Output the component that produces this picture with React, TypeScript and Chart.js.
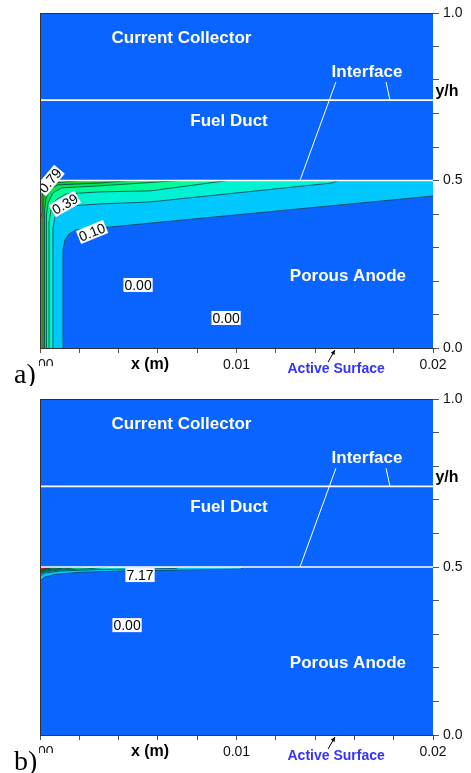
import React, { useEffect, useRef } from 'react';
import { Chart, registerables } from 'chart.js';

Chart.register(...registerables);

// ---------- axis tick labels ----------
const xTickLabels = ['0.00', '0.01', '0.02'];
const yTickLabels = ['0.0', '0.5', '1.0'];

// ---------- panel a: contour band boundaries (x in m, y as y/h) ----------
const aB1x = [0.00117, 0.00117, 0.00127, 0.00148, 0.00183, 0.00356, 0.02];
const aB1y = [0, 0.2925, 0.3224, 0.3403, 0.3522, 0.3612, 0.4537];
const aB2x = [0.00066, 0.00066, 0.00076, 0.00102, 0.00153, 0.00305, 0.0056, 0.01486, 0.01517];
const aB2y = [0, 0.358, 0.391, 0.412, 0.424, 0.43, 0.436, 0.4925, 0.5];
const aB3x = [0.00046, 0.00046, 0.00056, 0.00081, 0.00132, 0.00305, 0.0056, 0.00957];
const aB3y = [0, 0.376, 0.412, 0.442, 0.46, 0.466, 0.469, 0.5];
const aB4x = [0.00033, 0.00033, 0.00041, 0.00066, 0.00112, 0.00305, 0.00712];
const aB4y = [0, 0.397, 0.433, 0.463, 0.478, 0.484, 0.5];
const aB5x = [0.00023, 0.00023, 0.00031, 0.00051, 0.00092, 0.00305, 0.00458];
const aB5y = [0, 0.412, 0.448, 0.475, 0.487, 0.4925, 0.5];
const aB6x = [0.00015, 0.00015, 0.0002, 0.00036, 0.00066, 0.00204];
const aB6y = [0, 0.427, 0.457, 0.481, 0.4925, 0.5];
const aB7x = [0.00009, 0.00009, 0.00015, 0.00031, 0.00102];
const aB7y = [0, 0.442, 0.472, 0.49, 0.5];
const aB8x = [0, 0.00008, 0.0001, 0.00025, 0.0005];
const aB8y = [0.38, 0.4, 0.46, 0.49, 0.5];
const aB9x = [0, 0.00012, 0.0002];
const aB9y = [0.47, 0.487, 0.5];
const aBandColors = ['#00c8ff', '#00f2d2', '#00ff96', '#00e65a', '#1ec81e', '#a0dc00', '#f0e600', '#ff9600', '#e61e00'];

// contour labels, panel a
const aLabelText = ['0.79', '0.39', '0.10', '0.00', '0.00'];
const aLabelX = [0.00051, 0.00127, 0.00265, 0.00499, 0.00947];
const aLabelY = [0.5, 0.43, 0.346, 0.188, 0.0896];
const aLabelAngle = [-50, -30, -22, 0, 0];

// ---------- panel b ----------
const bB1x = [0, 0.00025, 0.00076, 0.002, 0.004, 0.007, 0.0102, 0.0104];
const bB1y = [0.458, 0.47, 0.478, 0.484, 0.488, 0.4905, 0.4935, 0.5];
const bB2x = [0, 0.00025, 0.001, 0.003, 0.0069, 0.0071];
const bB2y = [0.473, 0.482, 0.488, 0.4926, 0.4955, 0.5];
const bB3x = [0, 0.0003, 0.001, 0.0025, 0.0035];
const bB3y = [0.479, 0.486, 0.491, 0.495, 0.5];
const bB4x = [0, 0.0004, 0.0012, 0.0022];
const bB4y = [0.482, 0.489, 0.494, 0.5];
const bB5x = [0, 0.0004, 0.0012, 0.0016];
const bB5y = [0.485, 0.492, 0.497, 0.5];
const bB6x = [0, 0.0003, 0.0008];
const bB6y = [0.487, 0.494, 0.5];
const bB7x = [0, 0.00025, 0.0006];
const bB7y = [0.489, 0.495, 0.5];
const bBandColors = ['#00c8ff', '#00f2d2', '#00ff96', '#00e65a', '#1ea01e', '#a02010', '#ff1000'];

const bLabelText = ['7.17', '0.00'];
const bLabelX = [0.00509, 0.00443];
const bLabelY = [0.476, 0.327];
const bLabelAngle = [0, 0];

// ---------- annotations (shared) ----------
const regionNames = ['Current Collector', 'Fuel Duct', 'Porous Anode', 'Interface'];
const regionX = [0.0072, 0.00962, 0.01567, 0.01664];
const regionY = [0.925, 0.677, 0.213, 0.822];
const interfaceLevels = [0.74, 0.5];
const leaderX = [[0.01506, 0.01323], [0.01761, 0.01781]];
const leaderY = [[0.794, 0.5], [0.794, 0.74]];

const BLUE = '#0a64ff';
const CONTOUR_LINE = '#0a3c50';
const FONT = "'Liberation Sans', Arial, Helvetica, sans-serif";

const panels = [
  {
    bx: [aB1x, aB2x, aB3x, aB4x, aB5x, aB6x, aB7x, aB8x, aB9x],
    by: [aB1y, aB2y, aB3y, aB4y, aB5y, aB6y, aB7y, aB8y, aB9y],
    colors: aBandColors,
    lt: aLabelText, lx: aLabelX, ly: aLabelY, la: aLabelAngle,
    letter: 'a)', height: 386, top: 0,
  },
  {
    bx: [bB1x, bB2x, bB3x, bB4x, bB5x, bB6x, bB7x],
    by: [bB1y, bB2y, bB3y, bB4y, bB5y, bB6y, bB7y],
    colors: bBandColors,
    lt: bLabelText, lx: bLabelX, ly: bLabelY, la: bLabelAngle,
    letter: 'b)', height: 387, top: 386,
  },
];

function near(v: number, step: number) {
  const k = v / step;
  return Math.abs(k - Math.round(k)) < 1e-6 ? Math.round(k) : -1;
}

function buildConfig(p: any) {
  const datasets: any[] = [];
  p.bx.forEach((xs: number[], i: number) => {
    const ys = p.by[i];
    const pts = xs.map((x, j) => ({ x, y: ys[j] }));
    const poly = pts.slice();
    if (xs[xs.length - 1] >= 0.02) poly.push({ x: 0.02, y: 0.5 });
    poly.push({ x: 0, y: 0.5 });
    poly.push({ x: 0, y: pts[0].y });
    datasets.push({
      data: poly, fill: 'shape', backgroundColor: p.colors[i],
      borderColor: 'rgba(0,0,0,0)', borderWidth: 0, pointRadius: 0, tension: 0,
    });
    datasets.push({
      data: pts, fill: false, borderColor: CONTOUR_LINE, borderWidth: 0.8,
      pointRadius: 0, tension: 0,
    });
  });
  interfaceLevels.forEach((lv) =>
    datasets.push({
      data: [{ x: 0, y: lv }, { x: 0.02, y: lv }], fill: false,
      borderColor: '#ffffff', borderWidth: 1.6, pointRadius: 0,
    })
  );
  leaderX.forEach((lx, i) =>
    datasets.push({
      data: lx.map((x, j) => ({ x, y: leaderY[i][j] })), fill: false,
      borderColor: '#ffffff', borderWidth: 1, pointRadius: 0,
    })
  );
  datasets.forEach((d, i) => { d.order = 1000 - i; });

  const decor = {
    id: 'decor',
    beforeDraw(chart: any) {
      const { ctx, chartArea: a } = chart;
      ctx.save();
      ctx.fillStyle = BLUE;
      ctx.fillRect(a.left, a.top, a.right - a.left, a.bottom - a.top);
      ctx.restore();
    },
    afterDraw(chart: any) {
      const { ctx, chartArea: a } = chart;
      const xs = chart.scales.x, ys = chart.scales.y;
      const X = (v: number) => xs.getPixelForValue(v);
      const Y = (v: number) => ys.getPixelForValue(v);
      ctx.save();
      // frame top & left
      ctx.strokeStyle = '#333';
      ctx.lineWidth = 1;
      ctx.beginPath();
      ctx.moveTo(a.left, a.top + 0.5); ctx.lineTo(a.right, a.top + 0.5);
      ctx.moveTo(a.left + 0.5, a.top); ctx.lineTo(a.left + 0.5, a.bottom);
      ctx.stroke();

      // in-plot text
      ctx.save();
      ctx.beginPath();
      ctx.rect(a.left + 1, a.top, a.right - a.left - 1, a.bottom - a.top);
      ctx.clip();
      ctx.textAlign = 'center';
      ctx.textBaseline = 'middle';
      ctx.font = `14px ${FONT}`;
      p.lt.forEach((t: string, i: number) => {
        ctx.save();
        ctx.translate(X(p.lx[i]), Y(p.ly[i]));
        ctx.rotate((p.la[i] * Math.PI) / 180);
        const w = ctx.measureText(t).width;
        ctx.fillStyle = '#fff';
        ctx.fillRect(-w / 2 - 1, -7, w + 2, 14);
        ctx.fillStyle = '#000';
        ctx.fillText(t, 0, 1);
        ctx.restore();
      });
      ctx.font = `bold 17px ${FONT}`;
      ctx.fillStyle = '#fff';
      regionNames.forEach((t, i) => ctx.fillText(t, X(regionX[i]), Y(regionY[i])));
      ctx.restore();

      // axis titles
      ctx.textAlign = 'center';
      ctx.textBaseline = 'middle';
      ctx.fillStyle = '#000';
      ctx.font = `bold 16px ${FONT}`;
      ctx.fillText('x (m)', X(0.0056), a.bottom + 17);
      ctx.fillText('y/h', a.right + 14, Y(0.765));

      // active surface
      ctx.fillStyle = '#3333ff';
      ctx.font = `bold 14px ${FONT}`;
      ctx.fillText('Active Surface', X(0.01507), a.bottom + 21);
      const tx = X(0.01466), ty = a.bottom + 14;
      const hx = X(0.01501), hy = a.bottom + 2;
      ctx.strokeStyle = '#000';
      ctx.lineWidth = 1;
      ctx.beginPath();
      ctx.moveTo(tx, ty); ctx.lineTo(hx, hy); ctx.stroke();
      const ang = Math.atan2(hy - ty, hx - tx);
      ctx.fillStyle = '#000';
      ctx.beginPath();
      ctx.moveTo(hx, hy);
      ctx.lineTo(hx - 5 * Math.cos(ang - 0.45), hy - 5 * Math.sin(ang - 0.45));
      ctx.lineTo(hx - 5 * Math.cos(ang + 0.45), hy - 5 * Math.sin(ang + 0.45));
      ctx.closePath();
      ctx.fill();

      // panel letter covering part of the first tick label
      ctx.fillStyle = '#fff';
      ctx.fillRect(0, a.bottom + 6, a.left - 1, 60);
      ctx.fillRect(0, a.bottom + 18, a.left + 16, 60);
      ctx.fillStyle = '#000';
      ctx.font = "28px 'Liberation Serif', 'Times New Roman', serif";
      ctx.textAlign = 'left';
      ctx.textBaseline = 'alphabetic';
      ctx.fillText(p.letter, 14, a.bottom + 35);
      ctx.restore();
    },
  };

  return {
    type: 'line',
    data: { datasets },
    plugins: [decor],
    options: {
      animation: false,
      responsive: false,
      devicePixelRatio: 1,
      events: [],
      layout: { padding: { left: 40, top: 13, right: 0, bottom: 0 } },
      plugins: { legend: { display: false }, tooltip: { enabled: false } },
      elements: { line: { tension: 0 } },
      scales: {
        x: {
          type: 'linear', position: 'bottom', min: 0, max: 0.02,
          afterFit: (s: any) => { s.height = 38; },
          ticks: {
            stepSize: 0.002, autoSkip: false, maxRotation: 0, minRotation: 0,
            padding: 4, color: '#111', font: { family: FONT, size: 14 },
            callback: (v: number) => { const k = near(v, 0.01); return k >= 0 ? xTickLabels[k] : ''; },
          },
          grid: { drawOnChartArea: false, tickLength: 5, color: '#555' },
          border: { color: '#333', width: 1 },
        },
        y: {
          type: 'linear', position: 'right', min: 0, max: 1,
          afterFit: (s: any) => { s.width = 38; },
          ticks: {
            stepSize: 0.1, autoSkip: false, padding: 4, color: '#111',
            font: { family: FONT, size: 14 },
            callback: (v: number) => { const k = near(v, 0.5); return k >= 0 ? yTickLabels[k] : ''; },
          },
          grid: { drawOnChartArea: false, tickLength: 6, color: '#555' },
          border: { display: false },
        },
      },
    },
  };
}

function Panel({ p }: { p: any }) {
  const ref = useRef<HTMLCanvasElement>(null);
  useEffect(() => {
    const chart = new Chart(ref.current as HTMLCanvasElement, buildConfig(p) as any);
    return () => chart.destroy();
  }, []);
  return (
    <canvas
      ref={ref}
      width={471}
      height={p.height}
      style={{ position: 'absolute', left: 0, top: p.top, width: 471, height: p.height }}
    />
  );
}

export default function App() {
  return (
    <div style={{ position: 'absolute', left: 0, top: 0, width: 471, height: 773, background: '#fff', overflow: 'hidden' }}>
      {panels.map((p, i) => <Panel key={i} p={p} />)}
    </div>
  );
}
